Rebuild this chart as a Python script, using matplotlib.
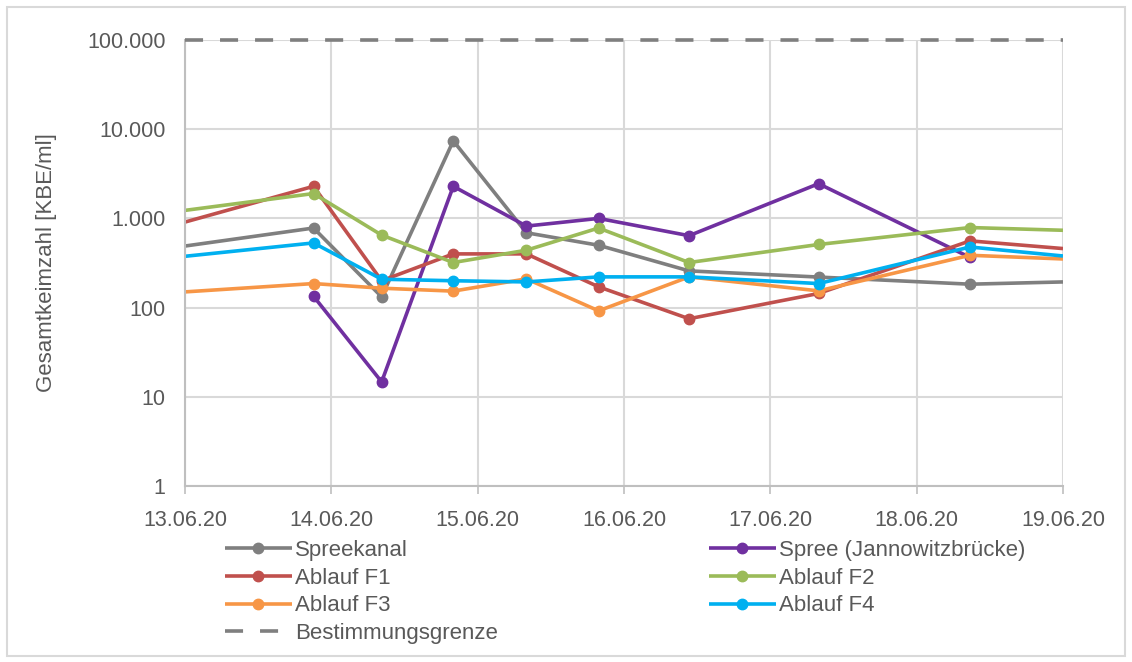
from datetime import datetime

import matplotlib
matplotlib.use('Agg')
import matplotlib.pyplot as plt
import matplotlib.dates as mdates
from matplotlib.patches import Rectangle
from matplotlib.ticker import FuncFormatter, LogLocator, NullLocator

plt.rcParams['font.family'] = ['Liberation Sans', 'DejaVu Sans']

# sampling times (first/last entries are the values where the lines leave the plot)
times = ['2020-06-13 00:00', '2020-06-13 21:05', '2020-06-14 08:15', '2020-06-14 20:00',
         '2020-06-15 08:00', '2020-06-15 19:50', '2020-06-16 10:40', '2020-06-17 07:55',
         '2020-06-18 08:45', '2020-06-19 00:00']

spreekanal = [490, 780, 132, 7400, 690, 500, 258, 220, 183, 194]
spree = [None, 134, 14.7, 2290, 820, 1000, 640, 2450, 365, None]
ablauf_f1 = [910, 2290, 200, 400, 400, 171, 75, 144, 560, 459]
ablauf_f2 = [1230, 1900, 650, 320, 440, 780, 320, 510, 790, 736]
ablauf_f3 = [150, 186, 165, 153, 210, 92, 221, 154, 386, 351]
ablauf_f4 = [376, 531, 208, 200, 194, 221, 221, 186, 478, 379]

bestimmungsgrenze = 100000

series = [
    ('Spreekanal', spreekanal, '#7f7f7f'),
    ('Spree (Jannowitzbrücke)', spree, '#7030a0'),
    ('Ablauf F1', ablauf_f1, '#c0504d'),
    ('Ablauf F2', ablauf_f2, '#9bbb59'),
    ('Ablauf F3', ablauf_f3, '#f79646'),
    ('Ablauf F4', ablauf_f4, '#00b0f0'),
]

x = [datetime.strptime(t, '%Y-%m-%d %H:%M') for t in times]

fig = plt.figure(figsize=(11.32, 6.62), dpi=100)
ax = fig.add_axes([185 / 1132, 1 - 486 / 662, 878 / 1132, 446 / 662])

handles = {}
for name, vals, color in series:
    xs = [xi for xi, v in zip(x, vals) if v is not None]
    ys = [v for v in vals if v is not None]
    inner = [i for i, xi in enumerate(xs) if x[0] < xi < x[-1]]
    h, = ax.plot(xs, ys, color=color, lw=2.6, marker='o', ms=7.5,
                 markevery=inner, solid_capstyle='butt')
    handles[name] = h

hb, = ax.plot([x[0], x[-1]], [bestimmungsgrenze, bestimmungsgrenze], color='#7f7f7f',
              lw=2.6, dashes=(5, 4.7), clip_on=False, zorder=5)
handles['Bestimmungsgrenze'] = hb

ax.set_yscale('log')
ax.set_ylim(1, 100000)
ax.set_xlim(x[0], x[-1])
ax.yaxis.set_major_locator(LogLocator(base=10, numticks=10))
ax.yaxis.set_minor_locator(NullLocator())
ax.yaxis.set_major_formatter(FuncFormatter(lambda v, p: f'{int(round(v)):,}'.replace(',', '.')))
ax.xaxis.set_major_locator(mdates.DayLocator())
ax.xaxis.set_major_formatter(mdates.DateFormatter('%d.%m.%y'))

ax.grid(True, color='#d9d9d9', lw=1.5)
ax.set_axisbelow(True)
for s in ['top', 'right']:
    ax.spines[s].set_visible(False)
for s in ['left', 'bottom']:
    ax.spines[s].set_color('#bfbfbf')
    ax.spines[s].set_linewidth(1.5)
ax.tick_params(axis='y', length=0, pad=14, labelsize=15.5, labelcolor='#595959')
ax.tick_params(axis='x', length=6, width=1.2, color='#bfbfbf', pad=11,
               labelsize=15.5, labelcolor='#595959')

ax.set_ylabel('Gesamtkeimzahl [KBE/ml]', fontsize=16, color='#595959')
ax.yaxis.set_label_coords(-128 / 878, 0.5)

order = ['Spreekanal', 'Ablauf F1', 'Ablauf F3', 'Bestimmungsgrenze',
         'Spree (Jannowitzbrücke)', 'Ablauf F2', 'Ablauf F4']
leg = fig.legend([handles[k] for k in order], order, ncol=2, loc='upper left',
                 bbox_to_anchor=(225 / 1132, 1 - 540 / 662), frameon=False,
                 fontsize=16, handlelength=3.0, handletextpad=0.15,
                 columnspacing=9.5, labelspacing=0.3, borderaxespad=0, borderpad=0)
for t in leg.get_texts():
    t.set_color('#595959')

fig.patches.append(Rectangle((7 / 1132, 1 - 656 / 662), 1118 / 1132, 649 / 662,
                             transform=fig.transFigure, fill=False,
                             edgecolor='#d9d9d9', lw=1.5))

fig.savefig('out.png', dpi=100)
